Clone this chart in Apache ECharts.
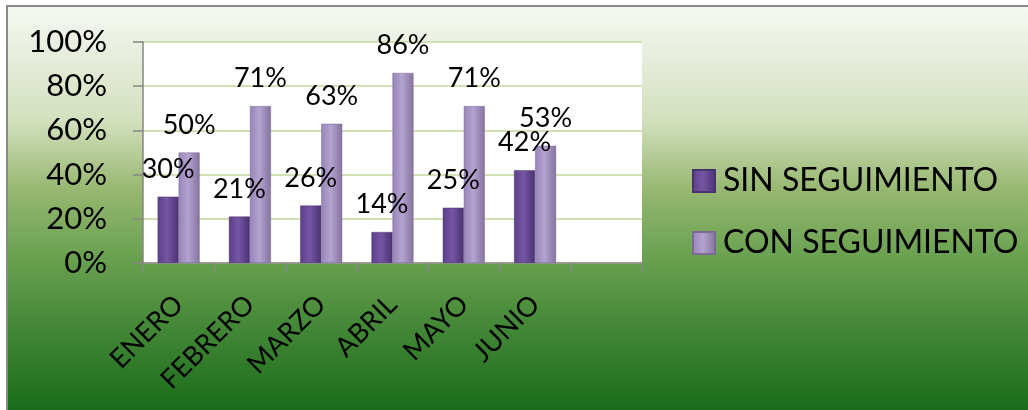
<!DOCTYPE html>
<html>
<head>
<meta charset="utf-8">
<script src="https://cdn.jsdelivr.net/npm/echarts@6/dist/echarts.min.js"></script>
<style>
html,body{margin:0;padding:0;background:#fff;}
#c{width:1028px;height:410px;}
</style>
</head>
<body>
<div id="c"></div>
<script>
const categories = ['ENERO', 'FEBRERO', 'MARZO', 'ABRIL', 'MAYO', 'JUNIO', ''];
const sinSeguimiento = [0.30, 0.21, 0.26, 0.14, 0.25, 0.42];
const conSeguimiento = [0.50, 0.71, 0.63, 0.86, 0.71, 0.53];
const seriesNames = ['SIN SEGUIMIENTO', 'CON SEGUIMIENTO'];

const FONT = 'Lato';
const chart = echarts.init(document.getElementById('c'), null, {renderer: 'canvas'});

function barGrad(a, b, c) {
  return new echarts.graphic.LinearGradient(0, 0, 1, 0, [
    {offset: 0, color: a}, {offset: 0.45, color: b}, {offset: 1, color: c}
  ]);
}
const sinColor = barGrad('#5b3f88', '#7656a4', '#4a3172');
const conColor = barGrad('#9784b8', '#b3a3cf', '#85729f');
const pct = p => Math.round(p.value * 100) + '%';

chart.setOption({
  backgroundColor: '#ffffff',
  animation: false,
  textStyle: {fontFamily: FONT},
  graphic: [{
    type: 'rect', z: -100,
    shape: {x: 7, y: 6, width: 1030, height: 410},
    style: {
      fill: new echarts.graphic.LinearGradient(0, 0, 0, 1, [
        {offset: 0, color: '#f6f8f3'},
        {offset: 0.28, color: '#d3e0bd'},
        {offset: 0.45, color: '#96b76f'},
        {offset: 0.62, color: '#67a04f'},
        {offset: 0.8, color: '#3f8534'},
        {offset: 1, color: '#176a18'}
      ]),
      stroke: '#8a8a8a', lineWidth: 2
    }
  }],
  grid: {
    left: 143, top: 42, width: 499, height: 221,
    show: true, backgroundColor: '#ffffff', borderWidth: 0
  },
  legend: {
    orient: 'vertical', left: 687, top: 160,
    itemWidth: 22, itemHeight: 22, itemGap: 30,
    icon: 'rect',
    textStyle: {fontFamily: FONT, fontSize: 32, color: '#000', padding: [0, 0, 0, 3]},
    data: seriesNames
  },
  xAxis: {
    type: 'category', data: categories, boundaryGap: true,
    axisLine: {show: true, lineStyle: {color: '#868686', width: 1.5}},
    axisTick: {show: true, length: 10, lineStyle: {color: '#868686', width: 1.5}},
    axisLabel: {
      rotate: 45, margin: 37, interval: 0,
      fontFamily: FONT, fontSize: 27, color: '#000'
    },
    splitLine: {show: false}
  },
  yAxis: {
    type: 'value', min: 0, max: 1, interval: 0.2,
    axisLine: {show: true, lineStyle: {color: '#868686', width: 1.5}},
    axisTick: {show: true, length: 10, lineStyle: {color: '#868686', width: 1.5}},
    axisLabel: {
      margin: 36, fontFamily: FONT, fontSize: 31, color: '#000',
      formatter: v => Math.round(v * 100) + '%'
    },
    splitLine: {show: true, lineStyle: {color: '#c4d89e', width: 1.5}}
  },
  series: [{
    name: seriesNames[0], type: 'bar', data: sinSeguimiento,
    barWidth: 21, barGap: '0%',
    itemStyle: {color: sinColor, borderColor: '#4a3270', borderWidth: 0.5},
    label: {show: true, position: 'top', distance: 14, formatter: pct,
      fontFamily: FONT, fontSize: 27, color: '#000'}
  }, {
    name: seriesNames[1], type: 'bar', data: conSeguimiento,
    barWidth: 21, barGap: '0%',
    itemStyle: {color: conColor, borderColor: '#7c6a98', borderWidth: 0.5},
    label: {show: true, position: 'top', distance: 14, formatter: pct,
      fontFamily: FONT, fontSize: 27, color: '#000'}
  }]
});
</script>
</body>
</html>
